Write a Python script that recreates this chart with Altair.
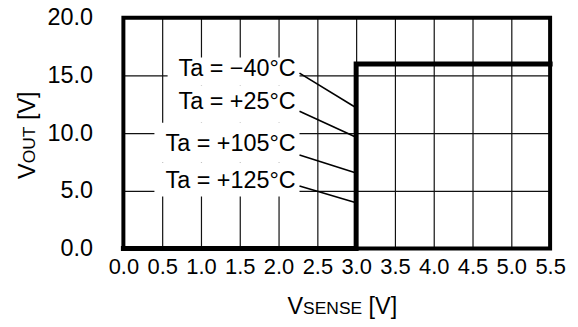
import altair as alt
import pandas as pd

# ---- data ----
step_x = [0.0, 3.0, 3.0, 5.5]
step_y = [0.0, 0.0, 16.0, 16.0]

x_ticks = [0.0, 0.5, 1.0, 1.5, 2.0, 2.5, 3.0, 3.5, 4.0, 4.5, 5.0, 5.5]
y_ticks = [0.0, 5.0, 10.0, 15.0, 20.0]

labels = ["Ta = \u221240\u00b0C", "Ta = +25\u00b0C", "Ta = +105\u00b0C", "Ta = +125\u00b0C"]
label_x = [2.22, 2.22, 2.22, 2.22]
label_y = [15.6, 12.7, 9.05, 5.86]

leader_x0 = [2.27, 2.27, 2.27, 2.27]
leader_y0 = [15.2, 11.9, 8.1, 5.43]
leader_x1 = [3.0, 3.0, 3.0, 3.0]
leader_y1 = [12.2, 9.65, 6.55, 3.97]

box_left = [0.57, 0.62, 0.40, 0.40]
box_right = [2.27, 2.27, 2.27, 2.27]
box_top = [16.55, 14.15, 10.9, 7.45]
box_bottom = [14.15, 10.9, 7.45, 4.5]

step_df = pd.DataFrame({"x": step_x, "y": step_y, "order": range(len(step_x))})
lab_df = pd.DataFrame({
    "label": labels, "lx": label_x, "ly": label_y,
    "x0": leader_x0, "y0": leader_y0, "x1": leader_x1, "y1": leader_y1,
    "bl": box_left, "br": box_right, "bt": box_top, "bb": box_bottom,
})

xscale = alt.Scale(domain=[0, 5.5], nice=False, zero=False)
yscale = alt.Scale(domain=[0, 20], nice=False, zero=False)

x_axis = alt.Axis(values=x_ticks, format=".1f", grid=True, gridColor="#111",
                  gridWidth=1.2, domain=False, ticks=False,
                  labelFont="Liberation Sans Narrow, Arial Narrow, Liberation Sans",
                  labelFontSize=22,
                  labelColor="#000", labelPadding=8, labelFlush=False,
                  labelOverlap=False, title=None)
y_axis = alt.Axis(values=y_ticks, format=".1f", grid=True, gridColor="#111",
                  gridWidth=1.2, domain=False, ticks=False,
                  labelFont="Liberation Sans", labelFontSize=23.5,
                  labelColor="#000", labelPadding=31, labelFlush=False,
                  labelOverlap=False, title=None)


def X(field):
    return alt.X(field, scale=xscale, axis=x_axis)


def Y(field):
    return alt.Y(field, scale=yscale, axis=y_axis)


step = alt.Chart(step_df).mark_line(color="#000", strokeWidth=5, strokeJoin="miter",
                                    strokeCap="square").encode(
    x=X("x:Q"), y=Y("y:Q"), order="order:O",
)

boxes = alt.Chart(lab_df).mark_rect(color="white").encode(
    x=X("bl:Q"), x2="br:Q", y=Y("bt:Q"), y2="bb:Q",
)

leaders = alt.Chart(lab_df).mark_rule(color="#000", strokeWidth=1.6).encode(
    x=X("x0:Q"), y=Y("y0:Q"), x2="x1:Q", y2="y1:Q",
)

texts = alt.Chart(lab_df).mark_text(align="right", baseline="middle",
                                    font="Liberation Sans", fontSize=23.5,
                                    color="#000").encode(
    x=X("lx:Q"), y=Y("ly:Q"), text="label:N",
)

frame = alt.Chart(pd.DataFrame({"a": [0]})).mark_rect(
    filled=False, stroke="#000", strokeWidth=4).encode(
    x=alt.value(0), x2=alt.value(429), y=alt.value(0), y2=alt.value(232))

# axis titles with small-caps middle part
big = 23.5
small = 17.5
title_font = "Liberation Sans"


def tpiece(txt, size, x, y, angle=0):
    return alt.Chart(pd.DataFrame({"t": [txt]})).mark_text(
        align="left", baseline="alphabetic", font=title_font, fontSize=size,
        color="#000", angle=angle).encode(x=alt.value(x), y=alt.value(y), text="t:N")


xt_y = 298
xt_x = 165
xtitle = (tpiece("V", big, xt_x, xt_y)
          + tpiece("SENSE", small, xt_x + 15.7, xt_y)
          + tpiece("[V]", big, xt_x + 15.7 + 59.3 + 6.5, xt_y))

yt_x = -89
yt_y = 162
ytitle = (tpiece("V", big, yt_x, yt_y, 270)
          + tpiece("OUT", small, yt_x, yt_y - 15.7, 270)
          + tpiece("[V]", big, yt_x, yt_y - 15.7 - 37 - 6.5, 270))

chart = alt.layer(step, boxes, leaders, texts, frame, xtitle, ytitle).properties(
    width=429, height=232,
    autosize=alt.AutoSizeParams(type="none"),
    padding={"left": 116, "top": 9, "right": 20, "bottom": 70},
).configure_view(stroke=None).configure(background="white")

chart.save("out.html", embed_options={"renderer": "svg", "actions": False})
